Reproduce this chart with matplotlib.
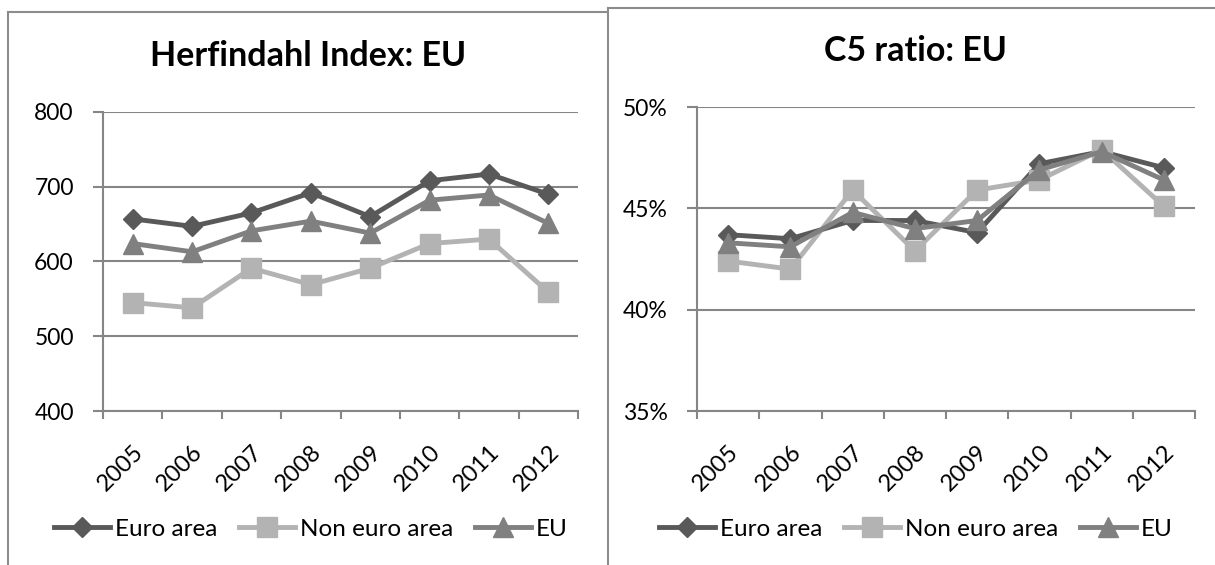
import matplotlib
matplotlib.use("Agg")
import matplotlib.pyplot as plt
from matplotlib.lines import Line2D

plt.rcParams["font.family"] = ["Lato", "DejaVu Sans"]

years = ["2005", "2006", "2007", "2008", "2009", "2010", "2011", "2012"]

# Herfindahl index
hhi_euro = [657, 647, 665, 692, 660, 708, 717, 690]
hhi_non_euro = [545, 538, 591, 569, 591, 624, 630, 559]
hhi_eu = [624, 613, 641, 654, 638, 682, 689, 651]

# C5 ratio (%)
c5_euro = [43.7, 43.5, 44.4, 44.4, 43.8, 47.2, 47.8, 47.0]
c5_non_euro = [42.4, 42.0, 45.9, 42.9, 45.9, 46.4, 47.9, 45.1]
c5_eu = [43.3, 43.1, 44.8, 44.0, 44.4, 46.9, 47.8, 46.4]

series_names = ["Euro area", "Non euro area", "EU"]
colors = ["#595959", "#b3b3b3", "#808080"]
markers = ["D", "s", "^"]
msizes = [10.5, 14, 14]

W, H = 1215, 565
fig = plt.figure(figsize=(W / 100, H / 100), dpi=100)


def px_axes(x0, y0, x1, y1):
    return fig.add_axes([x0 / W, 1 - y1 / H, (x1 - x0) / W, (y1 - y0) / H])


def draw_panel(ax, data, yticks, ylabels, title, title_xy, legend_xy):
    x = range(len(years))
    for vals, name, c, m, ms in zip(data, series_names, colors, markers, msizes):
        ax.plot(x, vals, color=c, lw=3.5, marker=m, markersize=ms,
                markeredgecolor=c, label=name, zorder=3)
    ax.set_xlim(-0.5, len(years) - 0.5)
    ax.set_ylim(yticks[0], yticks[-1])
    ax.set_yticks(yticks)
    ax.set_yticklabels(ylabels, fontsize=16.5)
    ax.set_xticks([i for i in x])
    ax.set_xticklabels(years, fontsize=17, rotation=45, ha="right",
                       rotation_mode="anchor")
    ax.set_xticks([i - 0.5 for i in range(len(years) + 1)], minor=True)
    ax.tick_params(axis="x", which="major", length=0, pad=22)
    ax.tick_params(axis="x", which="minor", length=6, width=1.5,
                   color="#868686", direction="out")
    ax.tick_params(axis="y", length=7, width=1.5, color="#868686", pad=14)
    ax.grid(axis="y", color="#868686", lw=1.5, zorder=0)
    for s in ["top", "right"]:
        ax.spines[s].set_visible(False)
    for s in ["left", "bottom"]:
        ax.spines[s].set_color("#868686")
        ax.spines[s].set_linewidth(1.5)
    fig.text(title_xy[0] / W, 1 - title_xy[1] / H, title, fontsize=24.5,
             fontweight="bold", ha="center", va="center")
    fig.legend(*ax.get_legend_handles_labels(), loc="center",
               bbox_to_anchor=(legend_xy[0] / W, 1 - legend_xy[1] / H),
               ncol=3, frameon=False, fontsize=17.5, handlelength=2.3,
               handletextpad=0.2, columnspacing=0.9, numpoints=1)


ax1 = px_axes(103, 112, 578, 411)
draw_panel(ax1, [hhi_euro, hhi_non_euro, hhi_eu], [400, 500, 600, 700, 800],
           ["400", "500", "600", "700", "800"], "Herfindahl Index: EU",
           (308, 56), (311, 529))

ax2 = px_axes(697, 107, 1195, 411)
c5_ticks = [35, 40, 45, 50]
draw_panel(ax2, [c5_euro, c5_non_euro, c5_eu], c5_ticks,
           [f"{t}%" for t in c5_ticks], "C5 ratio: EU", (915, 51), (916, 529))

# chart frames
frame = dict(color="#8c8c8c", lw=1.5, transform=fig.transFigure)
fig.add_artist(Line2D([8 / W, 8 / W], [0, 1 - 12 / H], **frame))
fig.add_artist(Line2D([8 / W, 607 / W], [1 - 12 / H, 1 - 12 / H], **frame))
fig.add_artist(Line2D([608 / W, 608 / W], [0, 1 - 7.5 / H], **frame))
fig.add_artist(Line2D([608 / W, 1], [1 - 7.5 / H, 1 - 7.5 / H], **frame))

fig.savefig("out.png", dpi=100)
